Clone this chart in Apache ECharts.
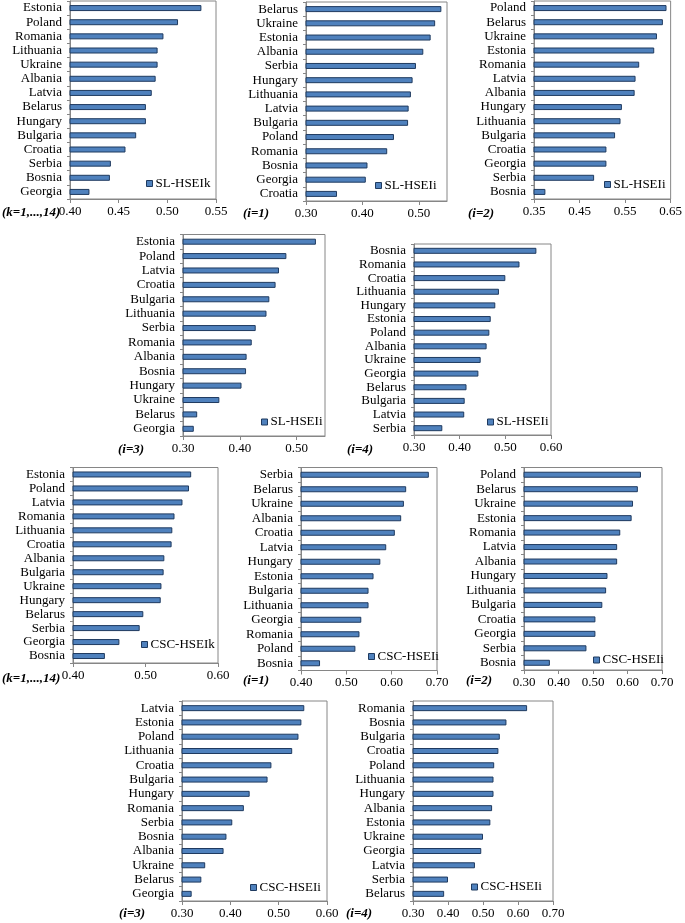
<!DOCTYPE html>
<html>
<head>
<meta charset="utf-8">
<script src="https://cdn.jsdelivr.net/npm/echarts@6/dist/echarts.min.js"></script>
<style>
html,body{margin:0;padding:0;background:#fff;}
#c{width:685px;height:923px;}
</style>
</head>
<body>
<div id="c"></div>
<script>
// ---- data ----
const p1Cats = ['Estonia','Poland','Romania','Lithuania','Ukraine','Albania','Latvia','Belarus','Hungary','Bulgaria','Croatia','Serbia','Bosnia','Georgia'];
const p1Vals = [0.535,0.511,0.496,0.490,0.490,0.488,0.484,0.478,0.478,0.468,0.457,0.442,0.441,0.420];

const p2Cats = ['Belarus','Ukraine','Estonia','Albania','Serbia','Hungary','Lithuania','Latvia','Bulgaria','Poland','Romania','Bosnia','Georgia','Croatia'];
const p2Vals = [0.540,0.529,0.521,0.508,0.495,0.489,0.486,0.482,0.481,0.456,0.444,0.409,0.406,0.355];

const p3Cats = ['Poland','Belarus','Ukraine','Estonia','Romania','Latvia','Albania','Hungary','Lithuania','Bulgaria','Croatia','Georgia','Serbia','Bosnia'];
const p3Vals = [0.641,0.633,0.620,0.614,0.581,0.573,0.571,0.543,0.540,0.528,0.509,0.509,0.482,0.375];

const p4Cats = ['Estonia','Poland','Latvia','Croatia','Bulgaria','Lithuania','Serbia','Romania','Albania','Bosnia','Hungary','Ukraine','Belarus','Georgia'];
const p4Vals = [0.534,0.482,0.469,0.463,0.452,0.447,0.428,0.421,0.412,0.411,0.403,0.364,0.325,0.319];

const p5Cats = ['Bosnia','Romania','Croatia','Lithuania','Hungary','Estonia','Poland','Albania','Ukraine','Georgia','Belarus','Bulgaria','Latvia','Serbia'];
const p5Vals = [0.568,0.531,0.500,0.486,0.478,0.468,0.465,0.459,0.446,0.441,0.415,0.411,0.410,0.362];

const p6Cats = ['Estonia','Poland','Latvia','Romania','Lithuania','Croatia','Albania','Bulgaria','Ukraine','Hungary','Belarus','Serbia','Georgia','Bosnia'];
const p6Vals = [0.563,0.560,0.551,0.540,0.537,0.536,0.526,0.525,0.522,0.521,0.497,0.492,0.464,0.444];

const p7Cats = ['Serbia','Belarus','Ukraine','Albania','Croatia','Latvia','Hungary','Estonia','Bulgaria','Lithuania','Georgia','Romania','Poland','Bosnia'];
const p7Vals = [0.682,0.632,0.627,0.621,0.607,0.588,0.575,0.560,0.549,0.549,0.533,0.529,0.520,0.442];

const p8Cats = ['Poland','Belarus','Ukraine','Estonia','Romania','Latvia','Albania','Hungary','Lithuania','Bulgaria','Croatia','Georgia','Serbia','Bosnia'];
const p8Vals = [0.639,0.630,0.616,0.612,0.579,0.570,0.570,0.542,0.538,0.527,0.507,0.507,0.481,0.375];

const p9Cats = ['Latvia','Estonia','Poland','Lithuania','Croatia','Bulgaria','Hungary','Romania','Serbia','Bosnia','Albania','Ukraine','Belarus','Georgia'];
const p9Vals = [0.553,0.547,0.541,0.528,0.485,0.477,0.440,0.428,0.404,0.392,0.386,0.348,0.340,0.320];

const p10Cats = ['Romania','Bosnia','Bulgaria','Croatia','Poland','Lithuania','Hungary','Albania','Estonia','Ukraine','Georgia','Latvia','Serbia','Belarus'];
const p10Vals = [0.626,0.567,0.548,0.544,0.532,0.530,0.530,0.526,0.521,0.500,0.495,0.477,0.400,0.389];

const seriesNames = ['SL-HSEIk','SL-HSEIi','SL-HSEIi','SL-HSEIi','SL-HSEIi','CSC-HSEIk','CSC-HSEIi','CSC-HSEIi','CSC-HSEIi','CSC-HSEIi'];
const captions = ['(k=1,...,14)','(i=1)','(i=2)','(i=3)','(i=4)','(k=1,...,14)','(i=1)','(i=2)','(i=3)','(i=4)'];
const axisMin = [0.40,0.30,0.35,0.30,0.30,0.40,0.40,0.30,0.30,0.30];
const axisMax = [0.55,0.55,0.65,0.55,0.60,0.60,0.70,0.70,0.60,0.70];
const axisInterval = [0.05,0.1,0.1,0.1,0.1,0.1,0.1,0.1,0.1,0.1];

const allCats = [p1Cats,p2Cats,p3Cats,p4Cats,p5Cats,p6Cats,p7Cats,p8Cats,p9Cats,p10Cats];
const allVals = [p1Vals,p2Vals,p3Vals,p4Vals,p5Vals,p6Vals,p7Vals,p8Vals,p9Vals,p10Vals];

// ---- layout (pixels) ----
const grids = [
  {left:70,  top:1,     width:146, height:198},
  {left:306, top:2,     width:141, height:199},
  {left:534, top:1,     width:138, height:198},
  {left:183, top:234.5, width:142, height:201.5},
  {left:414, top:244,   width:137, height:191},
  {left:73,  top:467.5, width:145, height:195.5},
  {left:301, top:467.5, width:136, height:203},
  {left:524, top:467.5, width:138, height:202.5},
  {left:182, top:701,   width:145, height:200},
  {left:413, top:701,   width:140, height:200}
];
const legendPos = [
  {left:146, top:177}, {left:375, top:179}, {left:604, top:178},
  {left:261, top:415.5}, {left:487, top:415.5},
  {left:141, top:638}, {left:368, top:650}, {left:593, top:653.5},
  {left:250, top:881}, {left:471, top:880.5}
];
const captionPos = [
  {x:2, y:206}, {x:243, y:207}, {x:468, y:207},
  {x:118, y:443}, {x:347, y:443},
  {x:2, y:672}, {x:243, y:674}, {x:466, y:674},
  {x:119, y:907}, {x:346, y:907}
];

const FONT = 'Liberation Serif';
const AXIS_GRAY = '#868686';
const BAR_FILL = '#4f81bd';
const BAR_EDGE = '#1f3a5f';

const option = {
  animation: false,
  backgroundColor: '#fff',
  textStyle: {fontFamily: FONT},
  grid: [], xAxis: [], yAxis: [], series: [], legend: [], graphic: []
};

for (let i = 0; i < 10; i++) {
  const g = grids[i];
  option.grid.push({
    left: g.left, top: g.top, width: g.width, height: g.height,
    show: true, borderColor: AXIS_GRAY, borderWidth: 1, backgroundColor: 'transparent',
    containLabel: false
  });
  const steps = (axisMax[i] - axisMin[i]) / axisInterval[i];
  const hideMax = Math.abs(steps - Math.round(steps)) > 1e-6;
  option.xAxis.push({
    type: 'value', gridIndex: i,
    min: axisMin[i], max: axisMax[i], interval: axisInterval[i],
    splitLine: {show: false},
    axisLine: {show: true, lineStyle: {color: AXIS_GRAY, width: 1}},
    axisTick: {show: true, length: 4, lineStyle: {color: AXIS_GRAY}},
    axisLabel: {
      fontFamily: FONT, fontSize: 13, color: '#000', margin: 6,
      showMaxLabel: !hideMax,
      formatter: v => Number(v).toFixed(2)
    }
  });
  option.yAxis.push({
    type: 'category', gridIndex: i, inverse: true,
    data: allCats[i],
    axisLine: {show: true, lineStyle: {color: AXIS_GRAY, width: 1}},
    axisTick: {show: true, length: 3, lineStyle: {color: AXIS_GRAY}},
    axisLabel: {fontFamily: FONT, fontSize: 13, color: '#000', margin: 8, interval: 0},
    splitLine: {show: false}
  });
  option.series.push({
    type: 'bar', name: seriesNames[i], xAxisIndex: i, yAxisIndex: i,
    data: allVals[i], barWidth: 6,
    itemStyle: {color: BAR_FILL, borderColor: BAR_EDGE, borderWidth: 1}
  });
  option.legend.push({
    data: [seriesNames[i]], left: legendPos[i].left, top: legendPos[i].top,
    padding: 0, itemWidth: 6, itemHeight: 6, icon: 'rect', selectedMode: false,
    itemStyle: {color: BAR_FILL, borderColor: BAR_EDGE, borderWidth: 1},
    textStyle: {fontFamily: FONT, fontSize: 13, color: '#000', padding: [0,0,0,-2]}
  });
  option.graphic.push({
    type: 'text', left: captionPos[i].x, top: captionPos[i].y,
    style: {text: captions[i], fontFamily: FONT, fontStyle: 'italic', fontWeight: 'bold', fontSize: 13, fill: '#000'}
  });
}

const chart = echarts.init(document.getElementById('c'), null, {renderer: 'canvas'});
chart.setOption(option);
</script>
</body>
</html>
